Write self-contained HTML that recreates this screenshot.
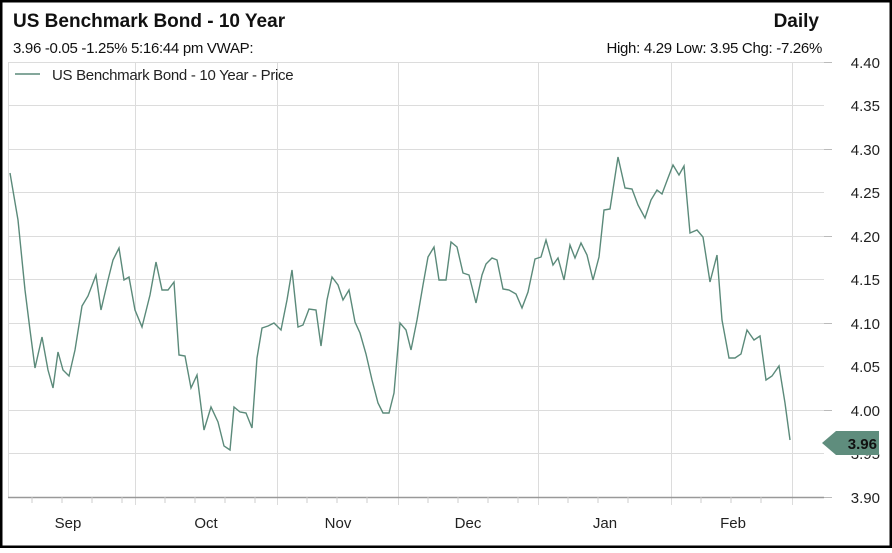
<!DOCTYPE html><html><head><style>body{margin:0;width:892px;height:548px;overflow:hidden;background:#fff}</style></head><body>
<svg width="892" height="548" xmlns="http://www.w3.org/2000/svg" font-family="Liberation Sans, Arial, sans-serif">
<rect x="1" y="1" width="890" height="546" fill="#fff" stroke="#000" stroke-width="3"/>
<text x="13" y="27" font-size="19" font-weight="bold" fill="#111">US Benchmark Bond - 10 Year</text>
<text x="819" y="27" font-size="19" font-weight="bold" text-anchor="end" fill="#111">Daily</text>
<text x="13" y="53" font-size="15" fill="#111" letter-spacing="-0.3">3.96 -0.05 -1.25% 5:16:44 pm VWAP:</text>
<text x="822" y="53" font-size="15" text-anchor="end" fill="#111" letter-spacing="-0.3">High: 4.29 Low: 3.95 Chg: -7.26%</text>
<g stroke="#dcdcdc" stroke-width="1">
<line x1="8" y1="62.5" x2="824" y2="62.5"/>
<line x1="8" y1="105.5" x2="824" y2="105.5"/><line x1="8" y1="149.5" x2="824" y2="149.5"/><line x1="8" y1="192.5" x2="824" y2="192.5"/><line x1="8" y1="236.5" x2="824" y2="236.5"/><line x1="8" y1="279.5" x2="824" y2="279.5"/><line x1="8" y1="323.5" x2="824" y2="323.5"/><line x1="8" y1="366.5" x2="824" y2="366.5"/><line x1="8" y1="410.5" x2="824" y2="410.5"/><line x1="8" y1="453.5" x2="824" y2="453.5"/>
<line x1="135.5" y1="62" x2="135.5" y2="505"/><line x1="277.5" y1="62" x2="277.5" y2="505"/><line x1="398.5" y1="62" x2="398.5" y2="505"/><line x1="538.5" y1="62" x2="538.5" y2="505"/><line x1="671.5" y1="62" x2="671.5" y2="505"/><line x1="792.5" y1="62" x2="792.5" y2="505"/>
<line x1="8.5" y1="62" x2="8.5" y2="497"/>
</g>
<line x1="8" y1="497.5" x2="824" y2="497.5" stroke="#999" stroke-width="1.5"/>
<g stroke="#bbb"><line x1="824" y1="62.5" x2="832" y2="62.5"/><line x1="824" y1="149.5" x2="832" y2="149.5"/><line x1="824" y1="236.5" x2="832" y2="236.5"/><line x1="824" y1="323.5" x2="832" y2="323.5"/><line x1="824" y1="410.5" x2="832" y2="410.5"/><line x1="824" y1="497.5" x2="832" y2="497.5"/></g>
<g stroke="#ccc" id="mt">
<line x1="32" y1="497" x2="32" y2="503"/><line x1="62" y1="497" x2="62" y2="503"/><line x1="92" y1="497" x2="92" y2="503"/><line x1="122" y1="497" x2="122" y2="503"/><line x1="165" y1="497" x2="165" y2="503"/><line x1="195" y1="497" x2="195" y2="503"/><line x1="225" y1="497" x2="225" y2="503"/><line x1="255" y1="497" x2="255" y2="503"/><line x1="307" y1="497" x2="307" y2="503"/><line x1="337" y1="497" x2="337" y2="503"/><line x1="367" y1="497" x2="367" y2="503"/><line x1="428" y1="497" x2="428" y2="503"/><line x1="458" y1="497" x2="458" y2="503"/><line x1="488" y1="497" x2="488" y2="503"/><line x1="518" y1="497" x2="518" y2="503"/><line x1="568" y1="497" x2="568" y2="503"/><line x1="598" y1="497" x2="598" y2="503"/><line x1="628" y1="497" x2="628" y2="503"/><line x1="701" y1="497" x2="701" y2="503"/><line x1="731" y1="497" x2="731" y2="503"/><line x1="761" y1="497" x2="761" y2="503"/>
</g>
<g font-size="15" fill="#222" text-anchor="end">
<text x="880" y="68">4.40</text><text x="880" y="111">4.35</text><text x="880" y="155">4.30</text><text x="880" y="198">4.25</text><text x="880" y="242">4.20</text><text x="880" y="285">4.15</text><text x="880" y="329">4.10</text><text x="880" y="372">4.05</text><text x="880" y="416">4.00</text><text x="880" y="459">3.95</text><text x="880" y="503">3.90</text>
</g>
<g font-size="15" fill="#222" text-anchor="middle">
<text x="68" y="528">Sep</text><text x="206" y="528">Oct</text><text x="338" y="528">Nov</text><text x="468" y="528">Dec</text><text x="605" y="528">Jan</text><text x="733" y="528">Feb</text>
</g>
<line x1="15" y1="74" x2="40" y2="74" stroke="#5b8a7a" stroke-width="1.5"/>
<text x="52" y="80" font-size="15" fill="#222" letter-spacing="-0.3">US Benchmark Bond - 10 Year - Price</text>
<polyline fill="none" stroke="#5b8a7a" stroke-width="1.4" points="10,173 18,220 25,290 30,330 35,368 42,337 48,370 53,388 58,352 63,370 69,376 75,350 82,306 88,296 96,275 101,310 108,280 113,260 119,248 124,280 129,277 135,310 142,327 150,295 156,262 162,290 168,290 174,282 179,355 185,356 191,388 197,375 204,430 211,407 218,422 224,446 230,450 234,407 240,412 246,413 252,428 257,358 262,328 268,326 274,323 281,330 287,300 292,270 298,327 303,325 309,309 316,310 321,346 327,300 332,277 338,285 343,300 349,290 355,322 360,333 366,354 372,380 378,403 383,413 389,413 394,393 400,323 406,330 411,350 417,320 423,285 428,257 434,247 439,280 446,280 451,242 457,247 463,273 469,275 476,303 482,275 486,264 492,258 497,260 503,289 509,290 516,294 522,308 528,292 535,259 541,257 546,240 553,265 558,258 564,280 570,245 575,258 581,243 587,255 593,280 599,257 604,210 610,209 618,157 625,188 632,189 638,205 645,218 651,200 657,190 662,194 668,178 673,165 679,175 684,166 690,233 697,230 703,237 710,282 717,255 722,320 729,358 735,358 741,354 747,330 754,340 760,336 766,380 772,376 779,366 785,403 790,440"/>
<polygon points="822,443 836,431 879,431 879,455 836,455" fill="#5f8d7d"/>
<text x="877" y="449" font-size="15" font-weight="bold" fill="#111" text-anchor="end">3.96</text>
</svg>
</body></html>
